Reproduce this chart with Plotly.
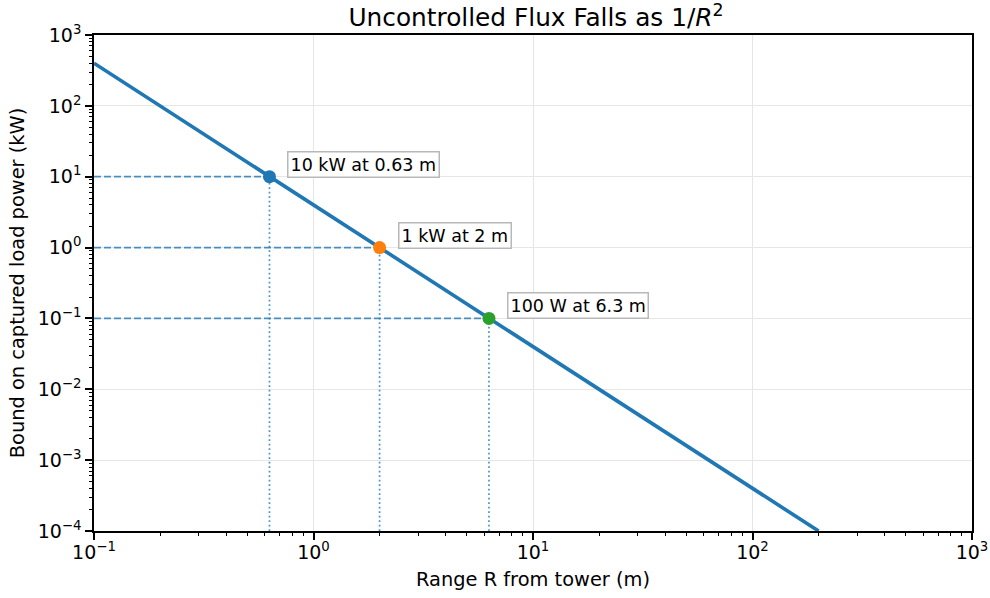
import math
import plotly.graph_objects as go

# Curve (straight line on log-log axes)
range_m = [0.1, 1.0, 10.0, 100.0, 200.0]
power_kw = [400.0, 4.0, 0.04, 0.0004, 0.0001]

# Marked points
pt_range = [0.63, 2.0, 6.3]
pt_power = [10.0, 1.0, 0.1]
pt_labels = ["10 kW at 0.63 m", "1 kW at 2 m", "100 W at 6.3 m"]
pt_colors = ["#1f77b4", "#ff7f0e", "#2ca02c"]

x_min, x_max = 0.1, 1000.0
y_min, y_max = 1e-4, 1e3

x_tickvals = [0.1, 1, 10, 100, 1000]
x_ticktext = ["10<sup>−1</sup>", "10<sup>0</sup>", "10<sup>1</sup>", "10<sup>2</sup>", "10<sup>3</sup>"]
y_tickvals = [1e-4, 1e-3, 1e-2, 1e-1, 1, 10, 100, 1000]
y_ticktext = ["10<sup>−4</sup>", "10<sup>−3</sup>", "10<sup>−2</sup>", "10<sup>−1</sup>",
              "10<sup>0</sup>", "10<sup>1</sup>", "10<sup>2</sup>", "10<sup>3</sup>"]


def minor_ticks(lo_exp, hi_exp):
    return [m * 10.0 ** e for e in range(lo_exp, hi_exp) for m in range(2, 10)]


x_minor = minor_ticks(-1, 3)
y_minor = minor_ticks(-4, 3)

BLUE = "#1f77b4"
FONT = "DejaVu Sans"
TICK_PX = 19
LABEL_PX = 19.4
TITLE_PX = 24.8
ANNOT_PX = 17.5

fig = go.Figure()

# Reference lines (on the main axes, below the curve)
for r, p in zip(pt_range, pt_power):
    fig.add_trace(go.Scatter(x=[x_min, r], y=[p, p], mode="lines",
                             line=dict(color="rgba(31,119,180,0.8)", width=1.7, dash="7px,3px"),
                             showlegend=False, hoverinfo="skip"))
    fig.add_trace(go.Scatter(x=[r, r], y=[y_min, p], mode="lines",
                             line=dict(color="rgba(31,119,180,0.8)", width=1.7, dash="1.7px,2.8px"),
                             showlegend=False, hoverinfo="skip"))

# Main curve (overlay axes carry the minor ticks)
fig.add_trace(go.Scatter(x=range_m, y=power_kw, mode="lines", xaxis="x2", yaxis="y2",
                         line=dict(color=BLUE, width=3.6), showlegend=False))

# Points
for r, p, c in zip(pt_range, pt_power, pt_colors):
    fig.add_trace(go.Scatter(x=[r], y=[p], mode="markers", xaxis="x2", yaxis="y2",
                             marker=dict(color=c, size=13), showlegend=False))

for r, p, t in zip(pt_range, pt_power, pt_labels):
    fig.add_annotation(x=math.log10(r), y=math.log10(p), xref="x2", yref="y2",
                       text=t, showarrow=False, xanchor="left", yanchor="bottom",
                       xshift=18, yshift=-1,
                       font=dict(family=FONT, size=ANNOT_PX, color="black"),
                       bgcolor="white", bordercolor="#b8b8b8", borderwidth=1.5, borderpad=2)

axis_common = dict(type="log", showline=True, linecolor="black", linewidth=1.5,
                   mirror=True, ticks="outside", ticklen=7, tickwidth=1.5, tickcolor="black",
                   showgrid=True, gridcolor="#e6e6e6", gridwidth=1, zeroline=False,
                   automargin=False,
                   tickfont=dict(family=FONT, size=TICK_PX, color="black"))

xr = [math.log10(x_min), math.log10(x_max)]
yr = [math.log10(y_min), math.log10(y_max)]

fig.update_layout(
    width=990, height=598,
    margin=dict(l=94, r=18, t=35, b=67),
    paper_bgcolor="white", plot_bgcolor="white",
    xaxis=dict(**axis_common, range=xr, tickvals=x_tickvals, ticktext=x_ticktext,
               ticklabelstandoff=-4,
               title=dict(text="Range R from tower (m)",
                          font=dict(family=FONT, size=LABEL_PX, color="black"), standoff=11)),
    yaxis=dict(**axis_common, range=yr, tickvals=y_tickvals, ticktext=y_ticktext,
               title=dict(text="Bound on captured load power (kW)",
                          font=dict(family=FONT, size=LABEL_PX, color="black"), standoff=8)),
    xaxis2=dict(type="log", overlaying="x", anchor="y2", side="bottom", range=xr,
                tickvals=x_minor, showticklabels=False, ticks="outside",
                ticklen=4, tickwidth=1.1, tickcolor="black", showgrid=False,
                showline=False, zeroline=False, automargin=False),
    yaxis2=dict(type="log", overlaying="y", anchor="x2", side="left", range=yr,
                tickvals=y_minor, showticklabels=False, ticks="outside",
                ticklen=4, tickwidth=1.1, tickcolor="black", showgrid=False,
                showline=False, zeroline=False, automargin=False),
    title=dict(text="Uncontrolled Flux Falls as 1/<i>R</i><sup>2</sup>", x=0.5414, xanchor="center",
               y=0.971, yanchor="middle", font=dict(family=FONT, size=TITLE_PX, color="black")),
)

fig.write_html("out.html", config={"displayModeBar": False},
               post_script="document.body.style.margin='0';document.body.style.overflow='hidden';")
